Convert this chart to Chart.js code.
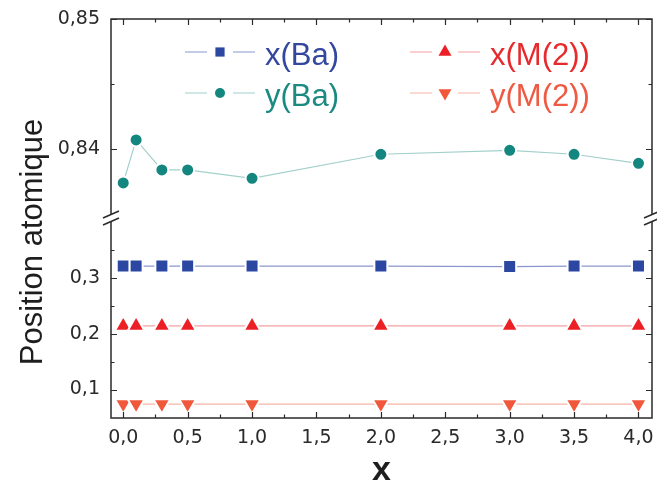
<!DOCTYPE html>
<html>
<head>
<meta charset="utf-8">
<script src="https://cdn.jsdelivr.net/npm/chart.js@4/dist/chart.umd.min.js"></script>
<style>
  html, body { margin:0; padding:0; background:#fff; }
  #wrap { width:657px; height:486px; position:relative; }
</style>
</head>
<body>
<div id="wrap"><canvas id="c"></canvas></div>
<script>
// data
const xValues = [0, 0.1, 0.3, 0.5, 1.0, 2.0, 3.0, 3.5, 4.0];
const xBa  = [0.321, 0.321, 0.321, 0.321, 0.321, 0.321, 0.320, 0.321, 0.321];
const yBa  = [0.8374, 0.8407, 0.8384, 0.8384, 0.83775, 0.8396, 0.8399, 0.8396, 0.8389];
const xM2  = [0.214, 0.214, 0.214, 0.214, 0.214, 0.214, 0.214, 0.214, 0.214];
const yM2  = [0.074, 0.074, 0.074, 0.074, 0.074, 0.074, 0.074, 0.074, 0.074];

const xTicks = [0, 0.5, 1, 1.5, 2, 2.5, 3, 3.5, 4];
const xMinor = [0.25, 0.75, 1.25, 1.75, 2.25, 2.75, 3.25, 3.75];
const yTopTicks = [0.84, 0.85];
const yTopMinor = [0.845];
const yBotTicks = [0.1, 0.2, 0.3];
const yBotMinor = [0.15, 0.25, 0.35];

const series = [
  { label:'x(Ba)',   data:xBa, axis:'yBot', color:'#2b47a2', line:'#8a97cc', text:'#34479f', style:'rect', rot:0,   r:9.2 },
  { label:'y(Ba)',   data:yBa, axis:'yTop', color:'#13867f', line:'#a3d0cb', text:'#1b8a80', style:'circle', rot:0, r:6.5 },
  { label:'x(M(2))', data:xM2, axis:'yBot', color:'#ec1f25', line:'#f3a0a0', text:'#e62a2d', style:'triangle', rot:0, r:9.7 },
  { label:'y(M(2))', data:yM2, axis:'yBot', color:'#f1573b', line:'#f6b3a4', text:'#ee5a43', style:'triangle', rot:180, r:9.7 }
];

const fmt = (v, d) => v.toFixed(d).replace('.', ',');
const tickFont = { family:'DejaVu Sans', size:19 };
const ink = '#2a2a2a';

const setTicks = arr => s => { s.ticks = arr.map(v => ({ value:v })); };

const frame = {
  id:'frame',
  afterDraw(chart){
    const ctx = chart.ctx, a = chart.chartArea;
    const sx = chart.scales.x, st = chart.scales.yTop, sb = chart.scales.yBot;
    const split = st.bottom;
    ctx.save();
    ctx.strokeStyle = ink; ctx.lineWidth = 1.5;
    ctx.strokeRect(a.left, a.top, a.right - a.left, a.bottom - a.top);

    // inward ticks all round
    ctx.lineWidth = 1.2;
    const hTick = (vals, len) => vals.forEach(v => {
      const px = Math.round(sx.getPixelForValue(v)) + 0.5;
      ctx.beginPath();
      ctx.moveTo(px, a.bottom); ctx.lineTo(px, a.bottom - len);
      ctx.moveTo(px, a.top); ctx.lineTo(px, a.top + len);
      ctx.stroke();
    });
    hTick(xTicks, 6); hTick(xMinor, 3.5);
    const vTick = (sc, vals, len) => vals.forEach(v => {
      const py = Math.round(sc.getPixelForValue(v)) + 0.5;
      ctx.beginPath();
      ctx.moveTo(a.left, py); ctx.lineTo(a.left + len, py);
      ctx.moveTo(a.right, py); ctx.lineTo(a.right - len, py);
      ctx.stroke();
    });
    vTick(st, yTopTicks, 6); vTick(st, yTopMinor, 3.5);
    vTick(sb, yBotTicks, 6); vTick(sb, yBotMinor, 3.5);

    // axis break marks
    [a.left, a.right].forEach(x0 => {
      ctx.fillStyle = '#fff';
      ctx.fillRect(x0 - 3, split - 3, 6, 6);
      ctx.strokeStyle = ink; ctx.lineWidth = 1.5;
      [-3.5, 3.5].forEach(d => {
        ctx.beginPath();
        ctx.moveTo(x0 - 8, split + d + 3.5);
        ctx.lineTo(x0 + 8, split + d - 3.5);
        ctx.stroke();
      });
    });

    // axis titles
    ctx.fillStyle = '#1e1e1e';
    ctx.font = '31px "Liberation Sans"';
    ctx.textAlign = 'center'; ctx.textBaseline = 'alphabetic';
    ctx.save();
    ctx.translate(42, 242);
    ctx.rotate(-Math.PI / 2);
    ctx.fillText('Position atomique', 0, 0);
    ctx.restore();
    ctx.font = 'bold 34px "Liberation Sans"';
    ctx.fillText('x', (a.left + a.right) / 2, 480);

    // legend, two columns inside the top panel
    const cols = [[185, 255, 265], [410, 480, 490]];
    const rows = [52, 93];
    const order = [0, 2, 1, 3];
    order.forEach((si, k) => {
      const s = series[si];
      const col = cols[k % 2], row = rows[Math.floor(k / 2)];
      const mid = (col[0] + col[1]) / 2;
      ctx.strokeStyle = s.line; ctx.lineWidth = 1.2;
      ctx.beginPath();
      ctx.moveTo(col[0], row); ctx.lineTo(mid - 13, row);
      ctx.moveTo(mid + 13, row); ctx.lineTo(col[1], row);
      ctx.stroke();
      ctx.fillStyle = s.color;
      Chart.helpers.drawPoint(ctx, { pointStyle:s.style, radius:s.style === 'circle' ? 5 : (s.style === 'rect' ? 6.5 : 7.5), rotation:s.rot, borderWidth:0 }, mid, row);
      ctx.fillStyle = s.text;
      ctx.font = '31px "Liberation Sans"';
      ctx.textAlign = 'left';
      ctx.fillText(s.label, col[2], row + 13);
    });
    ctx.restore();
  }
};

new Chart(document.getElementById('c'), {
  type:'line',
  data:{
    datasets: series.map(s => ({
      label:s.label,
      data:xValues.map((x, i) => ({ x, y:s.data[i] })),
      yAxisID:s.axis,
      borderColor:s.line,
      borderWidth:1.2,
      backgroundColor:s.color,
      pointStyle:s.style,
      pointRotation:s.rot,
      pointRadius:s.r,
      pointBorderColor:'#fff',
      pointBorderWidth:2,
      pointBackgroundColor:s.color,
      tension:0,
      clip:false
    }))
  },
  options:{
    responsive:true,
    maintainAspectRatio:false,
    animation:false,
    layout:{ autoPadding:false, padding:{ top:19, right:5, left:0, bottom:0 } },
    plugins:{ legend:{ display:false }, tooltip:{ enabled:false } },
    scales:{
      x:{
        type:'linear', min:-0.095, max:4.105,
        afterBuildTicks:setTicks(xTicks),
        afterFit:s => { s.height = 68; s.paddingLeft = 0; s.paddingRight = 0; },
        ticks:{ callback:v => fmt(v, 1), font:tickFont, color:ink, padding:9, maxRotation:0, autoSkip:false },
        grid:{ display:false, drawTicks:false },
        border:{ display:false }
      },
      yBot:{
        type:'linear', position:'left', stack:'y', stackWeight:200,
        min:0.049, max:0.407,
        afterBuildTicks:setTicks(yBotTicks),
        afterFit:s => { s.width = 111; s.paddingTop = 0; s.paddingBottom = 0; },
        ticks:{ callback:v => fmt(v, 1), font:tickFont, color:ink, padding:11 },
        grid:{ display:false, drawTicks:false },
        border:{ display:false }
      },
      yTop:{
        type:'linear', position:'left', stack:'y', stackWeight:199,
        min:0.8347, max:0.85,
        afterBuildTicks:setTicks(yTopTicks),
        afterFit:s => { s.width = 111; s.paddingTop = 0; s.paddingBottom = 0; },
        ticks:{ callback:v => fmt(v, 2), font:tickFont, color:ink, padding:11 },
        grid:{ display:false, drawTicks:false },
        border:{ display:false }
      }
    }
  },
  plugins:[frame]
});
</script>
</body>
</html>
